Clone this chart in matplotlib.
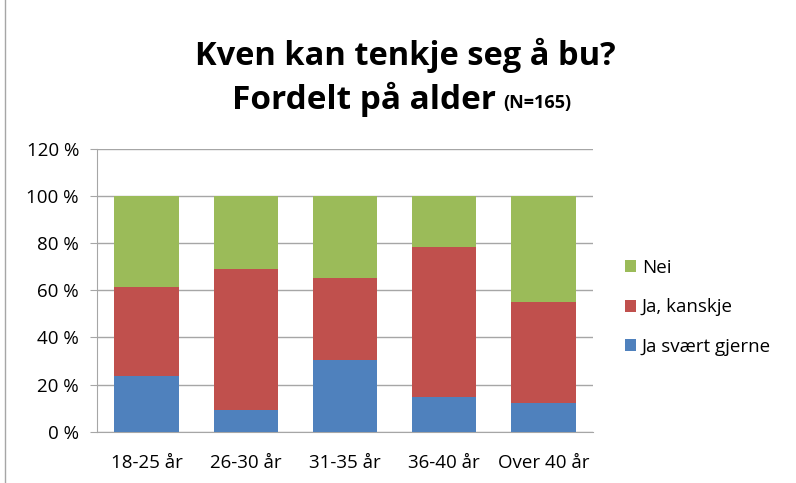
import matplotlib.pyplot as plt
from matplotlib.lines import Line2D

plt.rcParams['font.family'] = ['Open Sans', 'DejaVu Sans']

ages = ['18-25 år', '26-30 år', '31-35 år', '36-40 år', 'Over 40 år']
ja_svaert = [23.6, 9.2, 30.3, 14.6, 12.3]
ja_kanskje = [37.8, 59.7, 34.8, 63.6, 42.7]
nei = [38.6, 31.1, 34.9, 21.8, 45.0]
yticks = [0, 20, 40, 60, 80, 100, 120]

fig = plt.figure(figsize=(7.96, 4.83), dpi=100)
ax = fig.add_axes([0.1219, 0.106, 0.6231, 0.586])

x = range(len(ages))
w = 0.65
bottom2 = [a + b for a, b in zip(ja_svaert, ja_kanskje)]
ax.bar(x, ja_svaert, w, color='#4f81bd', label='Ja svært gjerne', zorder=3)
ax.bar(x, ja_kanskje, w, bottom=ja_svaert, color='#c0504d', label='Ja, kanskje', zorder=3)
ax.bar(x, nei, w, bottom=bottom2, color='#9bbb59', label='Nei', zorder=3)

ax.set_xlim(-0.5, len(ages) - 0.5)
ax.set_ylim(0, 120)
ax.set_yticks(yticks)
ax.set_yticklabels([f'{t} %' for t in yticks], fontsize=13.5)
ax.set_xticks(list(x))
ax.set_xticklabels(ages, fontsize=13.5)
ax.grid(axis='y', color='#a6a6a6', linewidth=1, zorder=0)
for s in ['top', 'right']:
    ax.spines[s].set_visible(False)
for s in ['left', 'bottom']:
    ax.spines[s].set_color('#a6a6a6')
ax.tick_params(axis='x', length=0, pad=16)
ax.tick_params(axis='y', length=5, color='#a6a6a6', pad=8)

handles, labels = ax.get_legend_handles_labels()
ax.legend(handles[::-1], labels[::-1], loc='center left', bbox_to_anchor=(1.03, 0.44),
          frameon=False, fontsize=13.5, handlelength=0.6, handleheight=0.6,
          labelspacing=1.15, handletextpad=0.3)

fig.text(0.509, 0.886, 'Kven kan tenkje seg å bu?', ha='center', va='center',
         fontsize=23.5, fontweight='bold')
fig.text(0.291, 0.795, 'Fordelt på alder', ha='left', va='center',
         fontsize=24, fontweight='bold')
fig.text(0.632, 0.786, '(N=165)', ha='left', va='center', fontsize=13, fontweight='bold')

fig.add_artist(Line2D([0.006, 0.006], [0, 1], color='#a6a6a6', linewidth=1))

fig.savefig('out.png', dpi=100)
